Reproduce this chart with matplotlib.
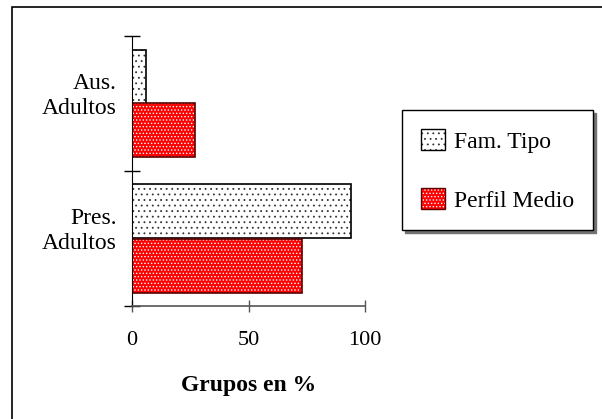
import matplotlib
matplotlib.use("Agg")
import matplotlib.pyplot as plt
from matplotlib.patches import Patch, Rectangle
from matplotlib.legend_handler import HandlerTuple
from matplotlib.transforms import ScaledTranslation

plt.rcParams["font.family"] = ["Liberation Serif", "DejaVu Serif"]
plt.rcParams["hatch.linewidth"] = 0.6

CATEGORIES = ["Pres.\nAdultos", "Aus.\nAdultos"]
FAM_TIPO = [94, 6]
PERFIL_MEDIO = [73, 27]
SERIES_NAMES = ["Fam. Tipo", "Perfil Medio"]
X_TICKS = [0, 50, 100]
X_LABEL = "Grupos en %"

W, H = 602, 419
BAR_H = 0.4
RED = "#ff0000"
DOT_GREY = "#333333"
RED_EDGE = "#5a0000"
FS = 17


def dotted_bars(ax, y, vals, face, hatch, dot_color, edge):
    # fill + hatch first, outline drawn separately so the dots keep their own colour
    ax.barh(y, vals, height=BAR_H, color=face, hatch=hatch,
            edgecolor=dot_color, linewidth=0)
    ax.barh(y, vals, height=BAR_H, fill=False, edgecolor=edge, linewidth=1.2)


def main():
    fig = plt.figure(figsize=(W / 100, H / 100), dpi=100)
    ax = fig.add_axes([132 / W, 1 - 306 / H, 233 / W, 270 / H])

    y = list(range(len(CATEGORIES)))
    y_fam = [v + BAR_H / 2 for v in y]
    y_per = [v - BAR_H / 2 for v in y]

    dotted_bars(ax, y_fam, FAM_TIPO, "white", "...", DOT_GREY, "black")
    dotted_bars(ax, y_per, PERFIL_MEDIO, RED, ".....", "white", RED_EDGE)

    ax.set_xlim(0, 100)
    ax.set_ylim(-0.5, len(CATEGORIES) - 0.5)

    ax.set_xticks(X_TICKS)
    ax.set_xticklabels([str(t) for t in X_TICKS], fontsize=16)
    ax.set_yticks([-0.5, 0.5, 1.5])
    ax.set_yticklabels([])
    ax.set_yticks(y, minor=True)
    ax.set_yticklabels(CATEGORIES, minor=True, fontsize=FS, linespacing=1.27)
    ax.tick_params(axis="y", which="minor", length=0, pad=11)
    ax.tick_params(axis="y", which="major", direction="inout", length=11,
                   width=1, color="black")
    ax.tick_params(axis="x", which="major", direction="inout", length=8,
                   width=1, color="#555555", pad=14)

    # category labels sit a bit above the band centre in the original
    shift = ScaledTranslation(0, 12 / 100, fig.dpi_scale_trans)
    for lab in ax.get_yticklabels(minor=True):
        lab.set_transform(lab.get_transform() + shift)

    for side in ["top", "right"]:
        ax.spines[side].set_visible(False)
    ax.spines["left"].set_color("black")
    ax.spines["bottom"].set_color("#555555")
    ax.spines["bottom"].set_linewidth(1.2)

    ax.set_xlabel(X_LABEL, fontsize=FS, fontweight="bold", labelpad=18)

    h_fam = Patch(facecolor="white", hatch="...", edgecolor=DOT_GREY, linewidth=0)
    h_fam_edge = Patch(fill=False, edgecolor="black", linewidth=1)
    h_red = Patch(facecolor=RED, hatch=".....", edgecolor="white", linewidth=0)
    h_red_edge = Patch(fill=False, edgecolor=RED_EDGE, linewidth=1)
    leg = fig.legend([(h_fam, h_fam_edge), (h_red, h_red_edge)], SERIES_NAMES,
                     handler_map={tuple: HandlerTuple(ndivide=1, pad=0)},
                     loc="upper left", bbox_to_anchor=(402 / W, 1 - 110 / H),
                     fontsize=FS, frameon=True, fancybox=False,
                     edgecolor="black", handlelength=1.0, handleheight=1.0,
                     handletextpad=0.42, labelspacing=1.5, borderpad=0.8,
                     borderaxespad=0,
                     shadow={"color": "0.45", "alpha": 1.0, "ox": 2, "oy": -2})
    leg.get_frame().set_linewidth(1)

    # outer chart border
    fig.patches.append(Rectangle((12 / W, -0.05), 1.0, 1 - 7 / H + 0.05,
                                 transform=fig.transFigure, fill=False,
                                 edgecolor="black", linewidth=1.2))

    fig.savefig("out.png", dpi=100, facecolor="white")
    plt.close(fig)


if __name__ == "__main__":
    main()
